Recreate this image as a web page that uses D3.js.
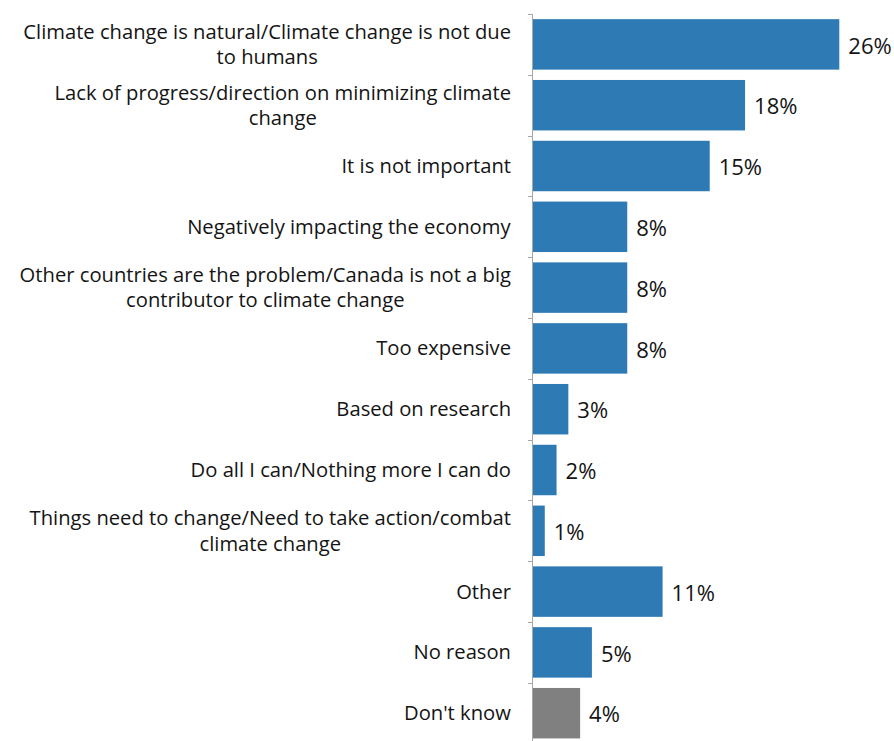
<!DOCTYPE html>
<html>
<head>
<meta charset="utf-8">
<script src="https://cdn.jsdelivr.net/npm/d3@7"></script>
<style>
  html, body { margin: 0; padding: 0; background: #ffffff; }
  svg { display: block; }
  text { font-family: "Open Sans", Lato, sans-serif; fill: #141414; }
</style>
</head>
<body>
<svg id="chart" width="894" height="741"></svg>
<script>
// Reasons given, in display order (line breaks mark wrapped labels)
const categories = [
  "Climate change is natural/Climate change is not due\nto humans",
  "Lack of progress/direction on minimizing climate\nchange",
  "It is not important",
  "Negatively impacting the economy",
  "Other countries are the problem/Canada is not a big\ncontributor to climate change",
  "Too expensive",
  "Based on research",
  "Do all I can/Nothing more I can do",
  "Things need to change/Need to take action/combat\nclimate change",
  "Other",
  "No reason",
  "Don't know"
];
// Share of respondents, percent
const values = [26, 18, 15, 8, 8, 8, 3, 2, 1, 11, 5, 4];
// Bar fill: substantive answers in blue, "Don't know" in grey
const barColors = ["#2e7ab4", "#2e7ab4", "#2e7ab4", "#2e7ab4", "#2e7ab4", "#2e7ab4",
                   "#2e7ab4", "#2e7ab4", "#2e7ab4", "#2e7ab4", "#2e7ab4", "#808080"];

const svg = d3.select("#chart");

const axisX = 533;
const x = d3.scaleLinear().domain([0, 26]).range([axisX, 839.3]);
const y = d3.scaleBand()
  .domain(categories)
  .range([14, 14 + 12 * 60.8])
  .paddingInner(0.17)
  .paddingOuter(0.085);

const step = y.step();
const plotTop = y.range()[0];

// Bars
svg.append("g").selectAll("rect")
  .data(values)
  .join("rect")
  .attr("x", x(0))
  .attr("y", (d, i) => y(categories[i]))
  .attr("width", d => x(d) - x(0))
  .attr("height", y.bandwidth())
  .attr("fill", (d, i) => barColors[i]);

// Category axis: vertical line with ticks between categories
const axisG = svg.append("g").attr("stroke", "#a6a6a6").attr("stroke-width", 1);
axisG.append("line")
  .attr("x1", axisX - 0.5).attr("x2", axisX - 0.5)
  .attr("y1", plotTop).attr("y2", 741);
axisG.selectAll("line.tick")
  .data(d3.range(categories.length + 1))
  .join("line")
  .attr("class", "tick")
  .attr("x1", axisX - 5).attr("x2", axisX - 0.5)
  .attr("y1", i => Math.round(plotTop + i * step) + 0.5)
  .attr("y2", i => Math.round(plotTop + i * step) + 0.5);

// Category labels, right-aligned block with centred wrapped lines
const labelFont = 20.2;
const lineH = 25.5;
const labelG = svg.append("g");
categories.forEach((c, i) => {
  const lines = c.split("\n");
  const cy = y(c) + y.bandwidth() / 2;
  const g = labelG.append("g");
  const t = g.append("text")
    .attr("font-size", labelFont)
    .attr("text-anchor", "middle");
  lines.forEach((ln, k) => {
    t.append("tspan")
      .attr("x", 0)
      .attr("y", cy + (k - (lines.length - 1) / 2) * lineH)
      .attr("dy", "0.35em")
      .text(ln);
  });
  const w = t.node().getBBox().width;
  g.attr("transform", `translate(${511 - w / 2},0)`);
});

// Value labels
svg.append("g").selectAll("text")
  .data(values)
  .join("text")
  .attr("x", d => x(d) + 9)
  .attr("y", (d, i) => y(categories[i]) + y.bandwidth() / 2 + 1.5)
  .attr("dy", "0.35em")
  .attr("font-size", 22)
  .text(d => d + "%");
</script>
</body>
</html>
